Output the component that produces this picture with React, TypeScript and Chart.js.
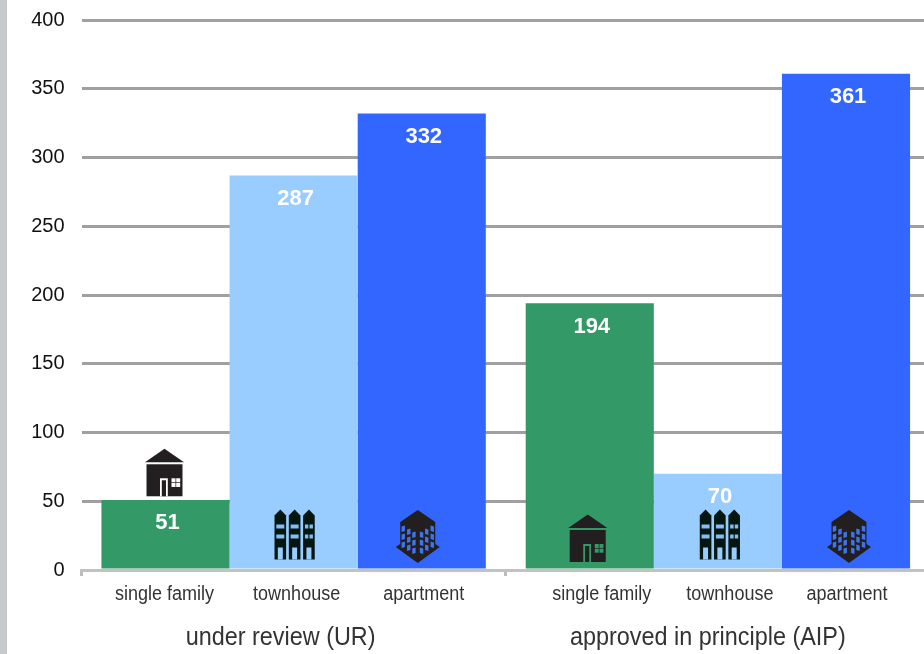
import React, { useEffect, useRef } from "react";
import { Chart, registerables } from "chart.js";

Chart.register(...registerables);

const groups = ["under review (UR)", "approved in principle (AIP)"];
const seriesNames = ["single family", "townhouse", "apartment"];
const singleFamily = [51, 194];
const townhouse = [287, 70];
const apartment = [332, 361];
const seriesColors = ["#339966", "#99ccff", "#3366ff"];
const yTicks = [0, 50, 100, 150, 200, 250, 300, 350, 400];

const subLabelShift = [[-1, 3, 2], [12, 12, 1]];
const groupLabelShift = [-13, -10];
const iconShift = [[-1, 1, -4], [-2, 2, 3]];
const SANS = '"Liberation Sans", Arial, sans-serif';

function drawHouse(c: CanvasRenderingContext2D, x: number, b: number, bg: string) {
  c.fillStyle = "#231f20";
  c.beginPath();
  c.moveTo(x, b - 47.5); c.lineTo(x + 19.5, b - 34); c.lineTo(x - 19.5, b - 34); c.closePath(); c.fill();
  c.fillRect(x - 18, b - 32, 36, 32);
  c.fillStyle = bg;
  c.fillRect(x - 4.5, b - 18, 7.8, 18);
  c.fillStyle = "#231f20";
  c.fillRect(x - 2.7, b - 16, 4.2, 16);
  c.fillStyle = bg;
  c.fillRect(x + 7, b - 18, 4, 4); c.fillRect(x + 11.7, b - 18, 4, 4);
  c.fillRect(x + 7, b - 13.3, 4, 4); c.fillRect(x + 11.7, b - 13.3, 4, 4);
}

function drawTownhouse(c: CanvasRenderingContext2D, x: number, b: number, bg: string) {
  [-14.3, 0, 14.3].forEach((dx, i) => {
    const cx = x + dx;
    c.fillStyle = "#04160f";
    c.beginPath();
    c.moveTo(cx - 5.8, b);
    c.lineTo(cx - 5.8, b - 44); c.lineTo(cx, b - 50); c.lineTo(cx + 5.8, b - 44);
    c.lineTo(cx + 5.8, b); c.closePath(); c.fill();
    c.fillStyle = "#84bdf5";
    [35, 25].forEach((up) => {
      if (i === 2) {
        c.fillRect(cx - 4, b - up, 3.4, 4);
        c.fillRect(cx + 0.6, b - up, 3.4, 4);
      } else {
        c.fillRect(cx - 4, b - up, 8, 4);
      }
    });
    c.fillStyle = bg;
    c.fillRect(cx - 2.5, b - 12, 5, 12);
  });
}

function drawApartment(c: CanvasRenderingContext2D, x: number, b: number, _bg: string) {
  c.fillStyle = "#231f20";
  c.beginPath();
  c.moveTo(x, b - 53); c.lineTo(x + 17.5, b - 41); c.lineTo(x + 17.5, b - 19);
  c.lineTo(x + 22, b - 16); c.lineTo(x, b); c.lineTo(x - 22, b - 16);
  c.lineTo(x - 17.5, b - 19); c.lineTo(x - 17.5, b - 41); c.closePath(); c.fill();
  c.fillStyle = "#3f74ea";
  [14.5, 9, 3.8].forEach((dx, col) => {
    [0, 8, 16].forEach((down) => {
      const top = b - 37 + down + col * 3;
      [-1, 1].forEach((side) => {
        const cx = x + side * dx;
        c.beginPath();
        c.moveTo(cx - 1.7, top - side * 0.6);
        c.lineTo(cx + 1.7, top + side * 0.6);
        c.lineTo(cx + 1.7, top + 5.5 + side * 0.6);
        c.lineTo(cx - 1.7, top + 5.5 - side * 0.6);
        c.closePath();
        c.fill();
      });
    });
  });
}

const iconDrawers = [drawHouse, drawTownhouse, drawApartment];
const iconBase = [8, 10.5, 7];

function squeezedText(c: CanvasRenderingContext2D, text: string, x: number, y: number, squeeze: number) {
  c.save();
  c.translate(x, y);
  c.scale(squeeze, 1);
  c.fillText(text, 0, 0);
  c.restore();
}

const overlay = {
  id: "overlay",
  afterDatasetsDraw(chart: any) {
    const c: CanvasRenderingContext2D = chart.ctx;
    const zero = chart.scales.y.getPixelForValue(0);
    c.save();
    c.textAlign = "center";
    c.textBaseline = "middle";
    chart.data.datasets.forEach((ds: any, di: number) => {
      chart.getDatasetMeta(di).data.forEach((bar: any, gi: number) => {
        const enough = zero - bar.y > 75;
        const bottom = enough ? zero - iconBase[di] : bar.y - 3.6;
        iconDrawers[di](c, bar.x + iconShift[gi][di], bottom, enough ? seriesColors[di] : "#ffffff");

        c.fillStyle = "#ffffff";
        c.font = `bold 22px ${SANS}`;
        c.fillText(String(ds.data[gi]), bar.x + 2, bar.y + 23.5);

        c.fillStyle = "#333333";
        c.font = `20px ${SANS}`;
        squeezedText(c, seriesNames[di], bar.x + subLabelShift[gi][di], zero + 24, 0.9);
      });
    });
    const xs = chart.scales.x;
    c.fillStyle = "#333333";
    c.font = `26px ${SANS}`;
    groups.forEach((g, i) => {
      squeezedText(c, g, xs.getPixelForValue(i) + groupLabelShift[i], zero + 68, 0.9);
    });
    c.restore();
  },
};

export default function App() {
  const ref = useRef<HTMLCanvasElement>(null);
  useEffect(() => {
    const chart = new Chart(ref.current as HTMLCanvasElement, {
      type: "bar",
      data: {
        labels: groups,
        datasets: [singleFamily, townhouse, apartment].map((data, i) => ({
          label: seriesNames[i],
          data,
          backgroundColor: seriesColors[i],
          barPercentage: 1,
          categoryPercentage: 0.906,
        })),
      },
      options: {
        animation: false,
        responsive: false,
        layout: { padding: { top: 20, left: 0, right: 0, bottom: 0 } },
        plugins: { legend: { display: false }, tooltip: { enabled: false } },
        scales: {
          x: {
            afterFit(s: any) { s.height = 84; },
            grid: { drawOnChartArea: false, drawTicks: true, tickLength: 6, tickColor: "#bdbdbd", tickWidth: 3 },
            border: { display: true, color: "#c2c2c2", width: 3, z: 1 },
            ticks: { display: false },
          },
          y: {
            min: 0,
            max: 400,
            afterFit(s: any) {
              s.width = 81.5;
              s.paddingTop = 0;
              s.paddingBottom = 0;
            },
            afterBuildTicks(s: any) { s.ticks = yTicks.map((value) => ({ value })); },
            grid: {
              color: (ctx: any) => (ctx.tick && ctx.tick.value === 0 ? "rgba(0,0,0,0)" : "#a0a0a0"),
              lineWidth: 3,
              drawTicks: false,
              tickLength: 0,
            },
            border: { display: false },
            ticks: { color: "#111111", font: { family: SANS, size: 20 }, padding: 17 },
          },
        },
      },
      plugins: [overlay],
    } as any);
    return () => chart.destroy();
  }, []);
  return (
    <div style={{ position: "absolute", left: 0, top: 0, width: 924, height: 654, overflow: "hidden", background: "#ffffff" }}>
      <canvas ref={ref} width={930} height={654} style={{ display: "block" }} />
      <div style={{ position: "absolute", left: 0, top: 0, width: 7, height: 654, background: "#c8c9cb" }} />
    </div>
  );
}
